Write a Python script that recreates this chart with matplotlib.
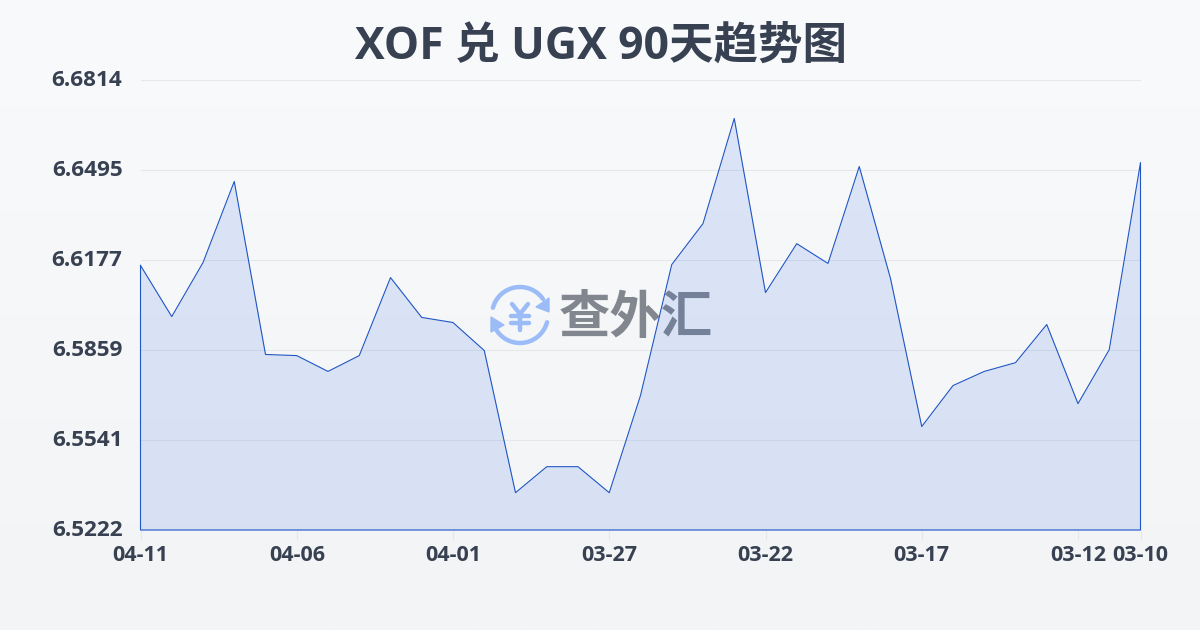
import numpy as np
import matplotlib
matplotlib.use('Agg')
import matplotlib.pyplot as plt
from matplotlib.patches import Arc, Polygon
from matplotlib.transforms import ScaledTranslation

plt.rcParams['font.family'] = ['Open Sans', 'Noto Sans CJK SC', 'DejaVu Sans']

TITLE = 'XOF 兑 UGX 90天趋势图'
MARK = '查外汇'

# oldest point is on the right, as in the picture
rates = [6.6158, 6.5977, 6.6168, 6.6455, 6.5843, 6.5839, 6.5783, 6.5839, 6.6115,
         6.5974, 6.5956, 6.5857, 6.5354, 6.5446, 6.5446, 6.5354, 6.5698, 6.6161,
         6.6306, 6.6678, 6.6062, 6.6235, 6.6165, 6.6508, 6.6112, 6.5588, 6.5733,
         6.5783, 6.5814, 6.5949, 6.5669, 6.5860, 6.6522]
date_idx = [0, 5, 10, 15, 20, 25, 30, 32]
date_labels = ['04-11', '04-06', '04-01', '03-27', '03-22', '03-17', '03-12', '03-10']
y_ticks = [6.6814, 6.6495, 6.6177, 6.5859, 6.5541, 6.5222]

TEXT = '#374151'
LINE = '#1f55c4'
FILL = '#1d5fe0'
GRID = '#e5e7eb'

fig = plt.figure(figsize=(12, 6.3), dpi=100)

# page background + watermark, in pixel coords
bg = fig.add_axes([0, 0, 1, 1], zorder=0)
grad = np.linspace(0, 1, 256).reshape(-1, 1)
top = np.array([0xf9, 0xfa, 0xfc]) / 255
bot = np.array([0xf3, 0xf4, 0xf6]) / 255
bg.imshow(top + (bot - top) * grad[:, :, None], extent=[0, 1200, 630, 0], aspect='auto')
bg.set_xlim(0, 1200)
bg.set_ylim(630, 0)
bg.axis('off')

bg.text(636, 317, MARK, color='#82878f', fontsize=37, fontweight='bold', ha='center',
        va='center', family=['Noto Sans CJK SC', 'DejaVu Sans'])

ICON = '#9cbcf8'
bg.add_patch(Arc((520, 315), 56, 56, theta1=195, theta2=325, color=ICON, lw=3.2, capstyle='round'))
bg.add_patch(Arc((520, 315), 56, 56, theta1=15, theta2=160, color=ICON, lw=3.2, capstyle='round'))
bg.add_patch(Polygon([[549, 298], [549, 312], [536, 307]], color=ICON))
bg.add_patch(Polygon([[491, 317], [491, 332], [504, 325]], color=ICON))
for xs, ys in [([512, 520, 528], [304, 314, 304]), ([520, 520], [314, 330]),
               ([511, 529], [316, 316]), ([511, 529], [323, 323])]:
    bg.plot(xs, ys, color=ICON, lw=3.2, solid_capstyle='round')

ax = fig.add_axes([140.5 / 1200, 100 / 630, 1000 / 1200, 450 / 630], zorder=1)
ax.patch.set_alpha(0)

x = np.arange(len(rates))
ax.fill_between(x, rates, y_ticks[-1], color=FILL, alpha=0.13, lw=0, zorder=2)
ax.plot(np.r_[x, x[-1], 0, 0], np.r_[rates, y_ticks[-1], y_ticks[-1], rates[0]],
        color=LINE, lw=0.8, zorder=3, clip_on=False)

ax.set_xlim(0, len(rates) - 1)
ax.set_ylim(y_ticks[-1], y_ticks[0])
ax.set_yticks(y_ticks)
ax.set_yticklabels(['%.4f' % v for v in y_ticks])
ax.set_xticks(date_idx)
ax.set_xticklabels(date_labels)
ax.grid(axis='y', color=GRID, lw=0.8)
ax.set_axisbelow(True)
for s in ax.spines.values():
    s.set_visible(False)
ax.tick_params(axis='y', length=0, pad=13, labelsize=16.2, labelcolor=TEXT)
ax.tick_params(axis='x', length=7, width=0.8, color=GRID, pad=3.5, labelsize=15.5, labelcolor=TEXT)
# y labels sit about 2px above their grid line
up = ScaledTranslation(0, 2 / 72 * 0.72, fig.dpi_scale_trans)
for t in ax.get_yticklabels():
    t.set_fontweight('bold')
    t.set_verticalalignment('center_baseline')
    t.set_transform(t.get_transform() + up)
for t in ax.get_xticklabels():
    t.set_fontweight('bold')

fig.text(0.5008, 1 - 47 / 630, TITLE, color=TEXT, fontsize=32, fontweight='bold', ha='center', va='center')

fig.savefig('out.png', dpi=100)
